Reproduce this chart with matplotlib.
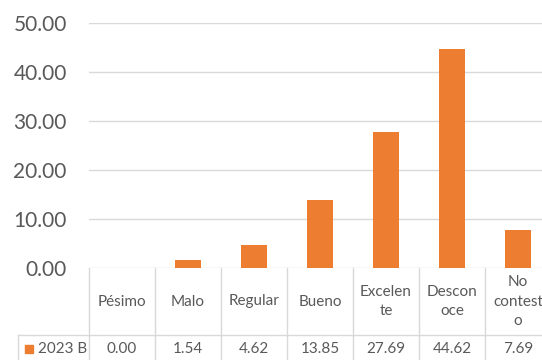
import matplotlib
matplotlib.use('Agg')
import matplotlib.pyplot as plt
from matplotlib.transforms import blended_transform_factory

# datos
categorias = ['Pésimo', 'Malo', 'Regular', 'Bueno', 'Excelente', 'Desconoce', 'No contesto']
etiquetas_tabla = ['Pésimo', 'Malo', 'Regular', 'Bueno', 'Excelen\nte', 'Descon\noce', 'No\ncontest\no']
valores = [0.00, 1.54, 4.62, 13.85, 27.69, 44.62, 7.69]
serie = '2023 B'

naranja = '#ED7D31'
gris_texto = '#595959'
gris_linea = '#D9D9D9'

plt.rcParams['font.family'] = ['Lato', 'DejaVu Sans']

W, H = 542, 360
fig = plt.figure(figsize=(W / 100, H / 100), dpi=100)

# area del grafico (en pixeles)
x0, x1 = 89, 551
y_top, y_cero = 22.7, 268
ax = fig.add_axes([x0 / W, (H - y_cero) / H, (x1 - x0) / W, (y_cero - y_top) / H])

x = list(range(len(categorias)))
ax.bar(x, valores, width=0.39, color=naranja, zorder=3)

ax.set_xlim(-0.5, len(categorias) - 0.5)
ax.set_ylim(0, 50)
ax.set_yticks([0, 10, 20, 30, 40, 50])
ax.set_yticklabels(['%.2f' % v for v in [0, 10, 20, 30, 40, 50]])
ax.tick_params(axis='y', length=0, pad=16, labelsize=15, labelcolor=gris_texto)
ax.set_xticks([])
for s in ax.spines.values():
    s.set_visible(False)
ax.yaxis.grid(True, color=gris_linea, linewidth=1.0, zorder=0)
ax.set_axisbelow(True)

# tabla de datos
tr = blended_transform_factory(ax.transData, ax.transAxes)
alto = y_cero - y_top
fila1 = -(335 - y_cero) / alto
fondo = -(H + 5 - y_cero) / alto
x_izq = (18 - x0) / 66.0 - 0.5

kw = dict(color=gris_linea, linewidth=1.0, transform=tr, clip_on=False)
for k in range(len(categorias) + 1):
    ax.plot([k - 0.5, k - 0.5], [0, fondo], **kw)
ax.plot([x_izq, len(categorias) - 0.5], [fila1, fila1], **kw)
ax.plot([x_izq, x_izq], [fila1, fondo], **kw)

y_enc = fila1 / 2
y_dat = -(349 - y_cero) / alto
for i, (et, v) in enumerate(zip(etiquetas_tabla, valores)):
    ax.text(i, y_enc, et, transform=tr, ha='center', va='center', fontsize=11,
            color=gris_texto, linespacing=1.5)
    ax.text(i, y_dat, '%.2f' % v, transform=tr, ha='center', va='center', fontsize=11,
            color=gris_texto)

ax.plot([(29 - x0) / 66.0 - 0.5], [y_dat], marker='s', markersize=5.5, color=naranja,
        transform=tr, clip_on=False, linestyle='none')
ax.text((38 - x0) / 66.0 - 0.5, y_dat, serie, transform=tr, ha='left', va='center',
        fontsize=11, color=gris_texto)

fig.savefig('out.png', dpi=100)
